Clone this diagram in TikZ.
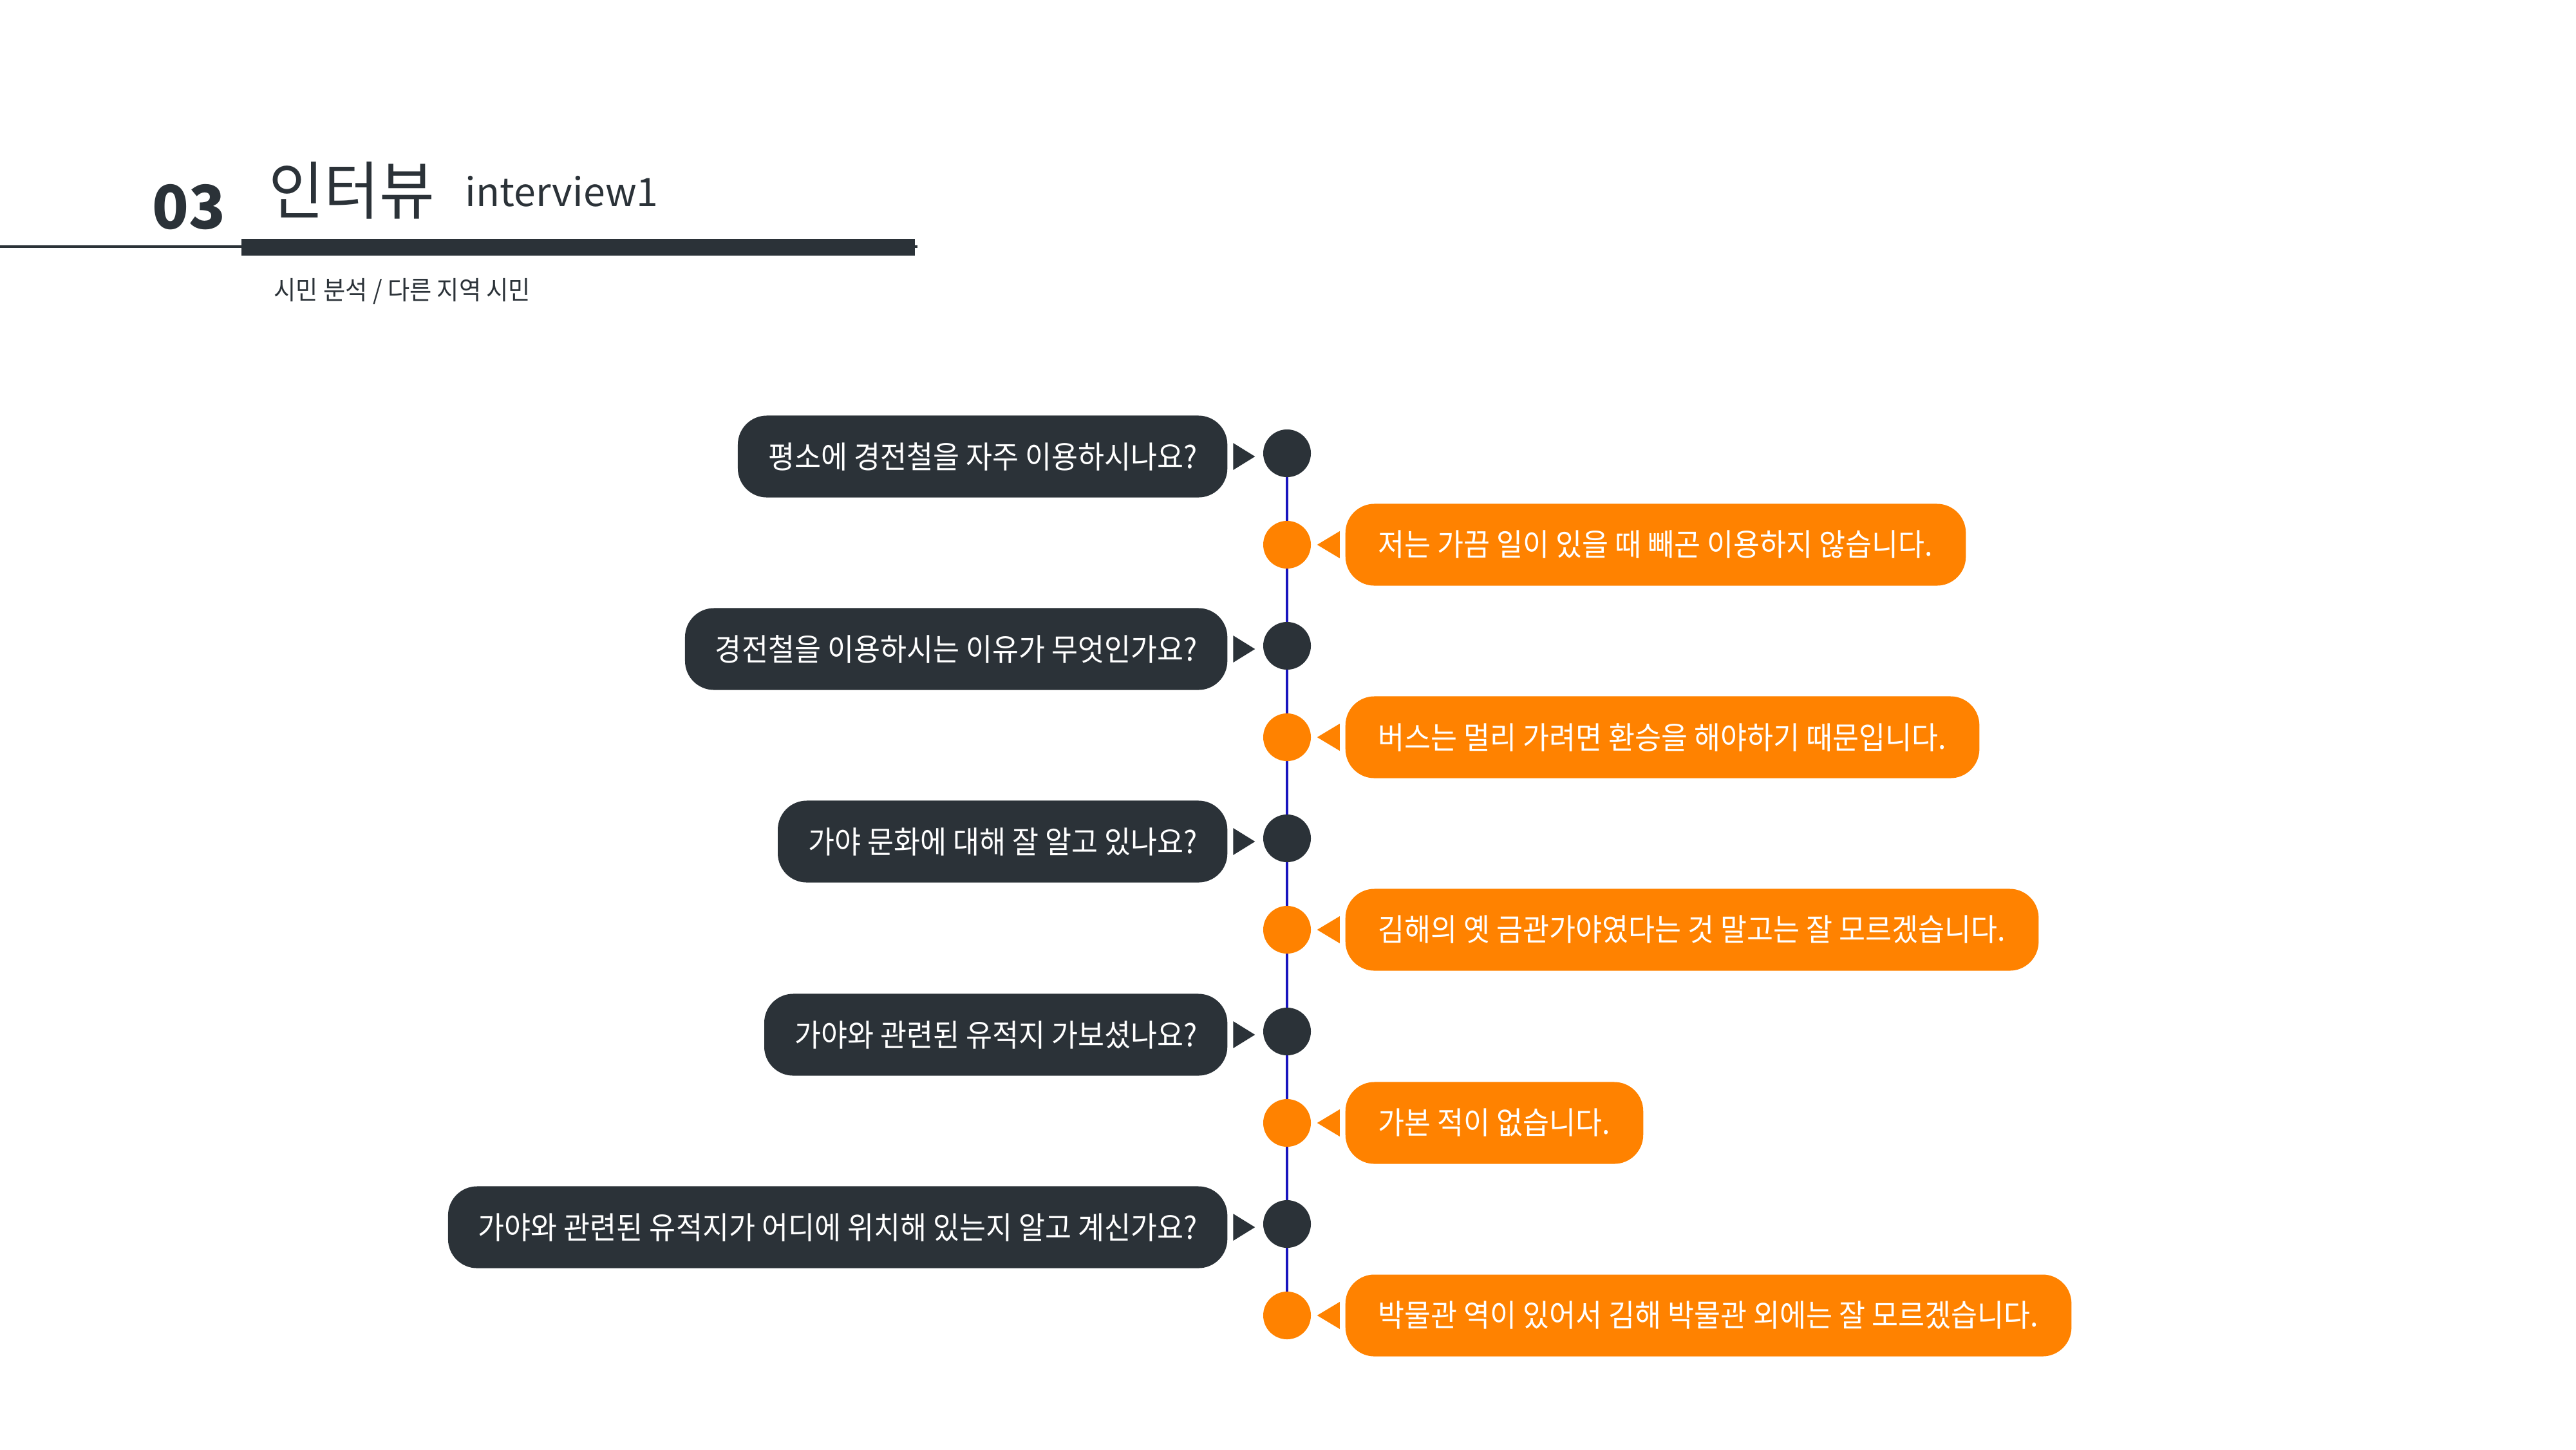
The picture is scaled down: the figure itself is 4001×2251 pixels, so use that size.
\documentclass[tikz,border=0pt]{standalone}
\usepackage{fontspec}
\newfontfamily\krs[FakeStretch=0.928]{Noto Sans CJK KR}
\newfontfamily\krt[FakeStretch=0.95]{Noto Sans CJK KR}
\newfontfamily\krn{Noto Sans CJK KR}
\usetikzlibrary{backgrounds}
\definecolor{dk}{RGB}{43,50,56}
\definecolor{og}{RGB}{255,130,0}
\definecolor{bl}{RGB}{25,20,190}
\tikzset{
  qbox/.style={fill=dk, rounded corners=0.45cm, minimum height=1.27cm, inner xsep=0.47cm, inner ysep=0pt, text=white, font=\krs\fontsize{13.66}{16}\selectfont, anchor=east},
  abox/.style={fill=og, rounded corners=0.45cm, minimum height=1.27cm, inner xsep=0.51cm, inner ysep=0pt, text=white, font=\krs\fontsize{13.66}{16}\selectfont, anchor=west},
  qdot/.style={circle, fill=dk, minimum size=0.74cm, inner sep=0pt},
  adot/.style={circle, fill=og, minimum size=0.74cm, inner sep=0pt},
  tline/.style={draw=bl, line width=0.04cm},
  hdtext/.style={text=dk, inner sep=0pt, anchor=base west}
}
\begin{document}
\begin{tikzpicture}[x=0.01cm,y=-0.01cm]
\useasboundingbox (0,0) rectangle (4001,2251);
% header
\draw[dk, line width=0.045cm] (0,383) coordinate (hl0) -- (1425,383) coordinate (hl1);
\fill[dk] (375,371) rectangle (1421,397);
\node[hdtext, font=\krn\bfseries\fontsize{26.6}{30}\selectfont] (num) at (236,355) {03};
\node[hdtext, font=\krt\fontsize{27.9}{30}\selectfont] (ttl) at (417,332) {인터뷰};
\node[hdtext, font=\krn\fontsize{17.3}{22}\selectfont] (eng) at (722,320) {interview1};
\node[hdtext, font=\krs\fontsize{11.4}{14}\selectfont] (sub) at (425,465) {시민 분석 / 다른 지역 시민};
% dots
\node[qdot] (d1) at (1999,704) {};
\node[adot] (o1) at (1999,846) {};
\node[qdot] (d2) at (1999,1003) {};
\node[adot] (o2) at (1999,1145) {};
\node[qdot] (d3) at (1999,1302) {};
\node[adot] (o3) at (1999,1444) {};
\node[qdot] (d4) at (1999,1602) {};
\node[adot] (o4) at (1999,1744) {};
\node[qdot] (d5) at (1999,1901) {};
\node[adot] (o5) at (1999,2043) {};
\begin{scope}[on background layer]
\draw[tline] (d1.center) -- (o5.center);
\end{scope}
% questions
\node[qbox] (q1) at (1907,709) {평소에 경전철을 자주 이용하시나요?};
\node[qbox] (q2) at (1907,1008) {경전철을 이용하시는 이유가 무엇인가요?};
\node[qbox] (q3) at (1907,1307) {가야 문화에 대해 잘 알고 있나요?};
\node[qbox] (q4) at (1907,1607) {가야와 관련된 유적지 가보셨나요?};
\node[qbox] (q5) at (1907,1906) {가야와 관련된 유적지가 어디에 위치해 있는지 알고 계신가요?};
% answers
\node[abox] (a1) at (2089,846) {저는 가끔 일이 있을 때 빼곤 이용하지 않습니다.};
\node[abox] (a2) at (2089,1145) {버스는 멀리 가려면 환승을 해야하기 때문입니다.};
\node[abox] (a3) at (2089,1444) {김해의 옛 금관가야였다는 것 말고는 잘 모르겠습니다.};
\node[abox] (a4) at (2089,1744) {가본 적이 없습니다.};
\node[abox] (a5) at (2089,2043) {박물관 역이 있어서 김해 박물관 외에는 잘 모르겠습니다.};
% pointers
\foreach \d in {d1,d2,d3,d4,d5}{
  \fill[dk] ([xshift=-0.12cm,yshift=-0.05cm]\d.west) -- ++(-34,-21) -- ++(0,42) -- cycle;
}
\foreach \o in {o1,o2,o3,o4,o5}{
  \fill[og] ([xshift=0.09cm]\o.east) -- ++(35,-21) -- ++(0,42) -- cycle;
}
\end{tikzpicture}
\end{document}
